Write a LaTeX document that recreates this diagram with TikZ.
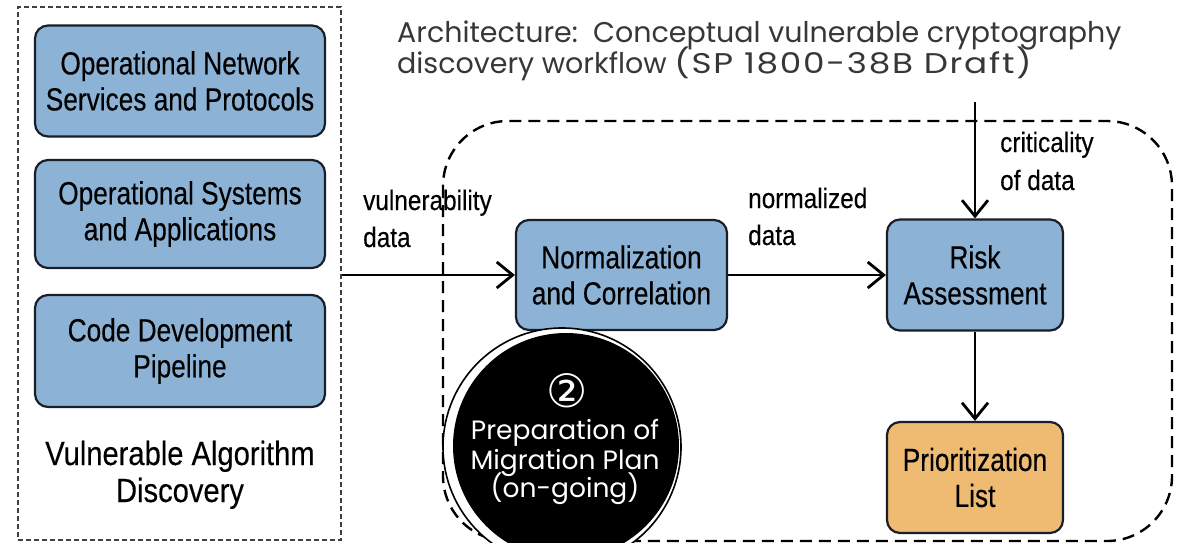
\documentclass[tikz,border=0pt]{standalone}
\usepackage{fontspec}
\setmainfont{Liberation Sans}
\newfontfamily\narrowfont{Liberation Sans}[FakeStretch=0.82,FakeBold=0.25]
\newfontfamily\labelfont{Liberation Sans}[FakeStretch=0.87,FakeBold=0.25]
\newfontfamily\titlefont{Poppins}
\newfontfamily\titlewide{Poppins}[LetterSpace=5]
\newfontfamily\symfont{DejaVu Sans}
\usetikzlibrary{arrows.meta}
\definecolor{boxblue}{RGB}{140,179,214}
\definecolor{boxorange}{RGB}{239,187,115}
\definecolor{edgecol}{RGB}{25,30,40}
\definecolor{titlegray}{RGB}{55,55,55}
\begin{document}
\begin{tikzpicture}[x=1pt,y=-1pt,
  blockbox/.style={draw=edgecol, line width=2.2pt, rounded corners=13pt, fill=boxblue,
    align=center, inner sep=0pt, font=\narrowfont\fontsize{32}{36}\selectfont},
  orangebox/.style={blockbox, fill=boxorange},
  flowlabel/.style={inner sep=0pt, anchor=base west, font=\labelfont\fontsize{28}{36}\selectfont},
  arr/.style={line width=2.8pt, -{Straight Barb[length=16pt,width=26pt,line width=2.8pt]}},
  titletext/.style={inner sep=0pt, anchor=base west, text=titlegray, font=\titlefont\fontsize{28.5}{30}\selectfont},
  circtext/.style={inner sep=0pt, anchor=base, text=white, font=\titlefont\fontsize{26.5}{30}\selectfont}
]
\useasboundingbox (0,0) rectangle (1177,543);
\fill[white] (0,0) rectangle (1177,543);

% left discovery group
\node[draw=black!75, line width=1.4pt, dash pattern=on 5pt off 3pt, minimum width=323pt, minimum height=533pt, inner sep=0pt] (disc) at (179.5,273.5) {};
\node[blockbox, minimum width=290pt, minimum height=111pt] (ons) at (180,81) {Operational Network\\Services and Protocols};
\node[blockbox, minimum width=290pt, minimum height=108pt] (osa) at (180,214) {Operational Systems\\and Applications};
\node[blockbox, minimum width=290pt, minimum height=112pt] (cdp) at (180,351) {Code Development\\Pipeline};
\node[inner sep=0pt, anchor=base, font=\labelfont\fontsize{33.5}{37}\selectfont] (vad1) at (180,465) {Vulnerable Algorithm};
\node[inner sep=0pt, anchor=base, font=\labelfont\fontsize{33.5}{37}\selectfont] (vad2) at (180,502) {Discovery};

% title
\node[titletext] (t1) at (397,43) {Architecture:\ \ Conceptual vulnerable cryptography};
\node[titletext] (t2) at (397,74) {discovery workflow \scalebox{1.2}[1]{\titlewide(SP 1800-38B Draft)}};

% big dashed region
\draw[line width=2.4pt, dash pattern=on 12pt off 7pt, rounded corners=65pt] (443,121) rectangle (1172,541);

% workflow boxes
\node[blockbox, minimum width=211pt, minimum height=110pt] (norm) at (621.5,275) {Normalization\\and Correlation};
\node[blockbox, minimum width=176pt, minimum height=111pt] (risk) at (975,275) {Risk\\Assessment};
\node[orangebox, minimum width=176pt, minimum height=111pt] (prio) at (975,477.5) {Prioritization\\List};

% connectors
\coordinate (critsrc) at (975,102);
\draw[arr] (disc.east |- norm.west) -- (norm.west);
\draw[arr] (norm.east) -- (risk.west);
\draw[arr] (critsrc) -- (risk.north);
\draw[arr] (risk.south) -- (prio.north);

% labels
\node[flowlabel] (vl1) at (363,210) {vulnerability};
\node[flowlabel] (vl2) at (363,247) {data};
\node[flowlabel] (nl1) at (748,208) {normalized};
\node[flowlabel] (nl2) at (748,245) {data};
\node[flowlabel] (cl1) at (1000,152) {criticality};
\node[flowlabel] (cl2) at (1000,190) {of data};

% migration circle
\node[circle, draw=black, line width=1.6pt, fill=white, minimum size=238pt, inner sep=0pt] (ring) at (562,447) {};
\node[circle, fill=black, minimum size=226pt, inner sep=0pt] (disk) at (566,446) {};
\node[inner sep=0pt, text=white, font=\symfont\fontsize{46}{46}\selectfont] (num) at (567,391) {②};
\node[circtext] (c1) at (565,439) {Preparation of};
\node[circtext] (c2) at (565,469) {Migration Plan};
\node[circtext] (c3) at (565,497) {(on-going)};
\end{tikzpicture}
\end{document}
